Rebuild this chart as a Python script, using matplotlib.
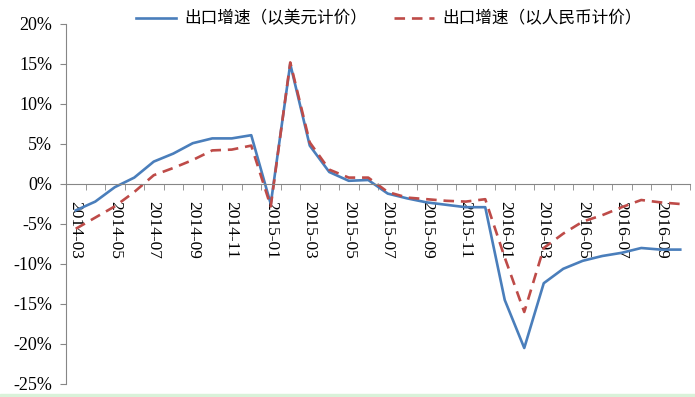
import numpy as np
import pandas as pd
import matplotlib.pyplot as plt
from matplotlib.ticker import FixedLocator

# month categories 2014-03 .. 2016-10
months = list(pd.period_range('2014-03', '2016-10', freq='M').strftime('%Y-%m'))

# export growth, USD basis (%)
usd = [-3.3, -2.2, -0.4, 0.8, 2.8, 3.8, 5.1, 5.7, 5.7, 6.1,
       -2.5, 15.0, 4.8, 1.5, 0.4, 0.5, -1.2, -1.8, -2.3, -2.6,
       -2.9, -2.9, -14.5, -20.5, -12.4, -10.6, -9.6, -9.0, -8.6, -8.0,
       -8.2, -8.2]
# export growth, RMB basis (%)
rmb = [-5.6, -4.2, -2.8, -1.0, 1.1, 2.0, 3.0, 4.2, 4.3, 4.8,
       -2.8, 15.2, 5.2, 1.8, 0.8, 0.8, -1.0, -1.7, -1.9, -2.1,
       -2.2, -1.9, -9.2, -16.0, -8.0, -6.2, -4.7, -3.9, -2.9, -2.0,
       -2.3, -2.5]

series_names = ['出口增速（以美元计价）', '出口增速（以人民币计价）']
yticks = [-25, -20, -15, -10, -5, 0, 5, 10, 15, 20]

fig = plt.figure(figsize=(6.95, 3.97), dpi=100)
ax = fig.add_axes([66 / 695, 1 - 384 / 397, 624 / 695, 360 / 397])

x = np.arange(len(months))
ax.plot(x, usd, color='#4A7EBB', lw=1.9, label=series_names[0])
ax.plot(x, rmb, color='#BE4B48', lw=1.9, dashes=(4, 2.6), label=series_names[1])

ax.set_xlim(-0.5, len(months) - 0.5)
ax.set_ylim(-25, 20)

# spines: only left axis and a horizontal axis at 0
for s in ['top', 'right']:
    ax.spines[s].set_visible(False)
ax.spines['bottom'].set_position(('data', 0))
ax.spines['bottom'].set_color('#868686')
ax.spines['left'].set_color('#868686')

ax.set_yticks(yticks)
ax.set_yticklabels([f'{v}%' for v in yticks], family='Liberation Serif', fontsize=13)
ax.tick_params(axis='y', direction='out', length=4, color='#868686', pad=6)

ax.set_xticks(x[::2])
ax.set_xticklabels(months[::2], rotation=-90, family='Liberation Serif', fontsize=12.5)
ax.xaxis.set_minor_locator(FixedLocator(np.arange(-0.5, len(months), 1.0)))
ax.tick_params(axis='x', which='major', length=0, pad=12)
ax.tick_params(axis='x', which='minor', direction='out', length=4, color='#868686')

leg = fig.legend(loc='center', bbox_to_anchor=(0.559, 0.952), ncol=2, frameon=False,
                 prop={'family': ['Noto Sans CJK SC', 'DejaVu Sans'], 'size': 12},
                 handlelength=2.4, handletextpad=0.5, columnspacing=1.6)

# thin light-green strip along the bottom edge
fig.patches.append(plt.Rectangle((0, 0), 1, 3 / 397, transform=fig.transFigure,
                                 color='#d9f2d9', zorder=0))

fig.savefig('out.png', dpi=100)
